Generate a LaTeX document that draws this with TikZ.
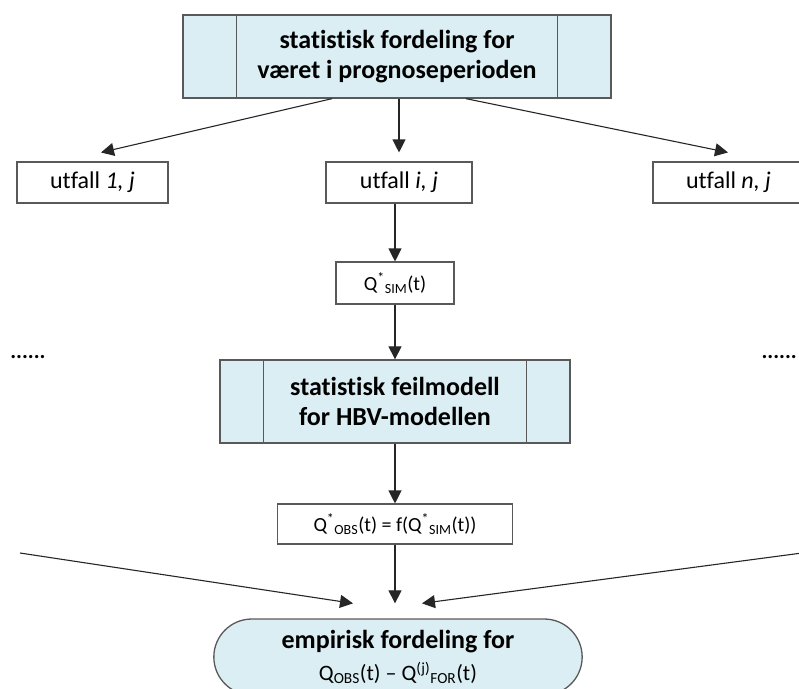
\documentclass[tikz,border=0pt]{standalone}
\usepackage{fontspec}
\setmainfont{Carlito}[Ligatures={TeX,NoCommon}]
\usetikzlibrary{%
    arrows.meta,%
    calc,%
    positioning,%
    shapes.misc
}
\definecolor{boxblue}{RGB}{218,238,243}
\definecolor{boxline}{RGB}{89,89,89}
\tikzset{
    procbox/.style={draw=boxline,line width=1.3pt,fill=boxblue,minimum height=83pt,align=center,font=\fontsize{26}{30}\selectfont\bfseries},
    outbox/.style={draw=boxline,line width=1.1pt,fill=white,minimum height=41pt,inner sep=0pt,font=\fontsize{20}{24}\selectfont},
    termnode/.style={rounded rectangle,draw=boxline,line width=1.3pt,fill=boxblue,minimum width=375pt,minimum height=76pt,align=center,font=\fontsize{26}{32}\selectfont},
    flowarrow/.style={draw=black!85,line width=1.1pt,-{Triangle[length=13pt,width=13pt]}},
    dotsnode/.style={font=\fontsize{22}{26}\selectfont\bfseries,inner sep=0pt}
}

\begin{document}
\begin{tikzpicture}[x=1pt,y=-1pt]
    \clip (0,0) rectangle (799,688);
    \coordinate (pivot) at (0,0);
    % Centre line of the flow
    \pgfmathsetmacro{\cx}{396};

    % Weather distribution and the outcomes drawn from it
    \node[procbox,minimum width=428pt] (weather) at ($(pivot) + (\cx+1,56.5)$) {statistisk fordeling for\\været i prognoseperioden};
    \foreach \nm/\x/\w/\lab in {utfallA/92.5/151/{1, j},utfallI/\cx+3/146/{i, j},utfallN/728.5/151/{n, j}}%
    {%
        \node[outbox,minimum width=\w pt,font=\fontsize{24}{28}\selectfont] (\nm) at ($(pivot) + (\x,182.5)$) {utfall \textit{\lab}};
    }

    % Simulated discharge and error model
    \node[outbox,minimum width=118pt,minimum height=42pt] (qsim) at ($(pivot) + (\cx-1,283)$) {Q\textsuperscript{*}\textsubscript{SIM}(t)};
    \node[procbox,minimum width=350pt] (errmodel) at ($(pivot) + (\cx-1,401.5)$) {statistisk feilmodell\\for HBV-modellen};
    \node[outbox,minimum width=235pt,minimum height=40pt] (qobs) at ($(pivot) + (\cx-1,524)$) {Q\textsuperscript{*}\textsubscript{OBS}(t) = f(Q\textsuperscript{*}\textsubscript{SIM}(t))};

    % Empirical distribution at the bottom
    \node[termnode] (empir) at ($(pivot) + (\cx+2,657)$) {\textbf{empirisk fordeling for}\\{\fontsize{22}{26}\selectfont Q\textsubscript{OBS}(t) – Q\textsuperscript{(j)}\textsubscript{FOR}(t)}};

    % Side bars of the two process boxes
    \foreach \nm/\d in {weather/54,errmodel/44}%
    {%
        \draw[boxline,line width=1.3pt] ($(\nm.north west)+(\d,0)$) -- ($(\nm.south west)+(\d,0)$)
            ($(\nm.north east)+(-\d,0)$) -- ($(\nm.south east)+(-\d,0)$);
    }

    % Omitted branches
    \node[dotsnode] (dotsL) at ($(pivot) + (28,357)$) {......};
    \node[dotsnode,anchor=east] (dotsR) at ($(pivot) + (797,357)$) {......};
    \coordinate (inL) at ($(pivot) + (20,553)$);
    \coordinate (inR) at ($(pivot) + (802,553)$);

    % Connectors
    \draw[flowarrow] ($(weather.south)+(-65,0)$) -- ($(utfallA.north)+(8.5,-9)$);
    \draw[flowarrow] (weather.south -| utfallI.north) -- ($(utfallI.north)+(0,-9)$);
    \draw[flowarrow] ($(weather.south)+(69,0)$) -- ($(utfallN.north)+(-0.5,-9)$);
    \draw[flowarrow] (utfallI.south -| qsim.north) -- (qsim.north);
    \draw[flowarrow] (qsim.south) -- (qsim.south |- errmodel.north);
    \draw[flowarrow] (errmodel.south -| qobs.north) -- (qobs.north);
    \draw[flowarrow] (qobs.south) -- ($(qobs.south |- empir.north)+(0,-15)$);
    \draw[flowarrow] (inL) -- ($(empir.north)+(-45,-15)$);
    \draw[flowarrow] (inR) -- ($(empir.north)+(24,-15)$);
\end{tikzpicture}
\end{document}
